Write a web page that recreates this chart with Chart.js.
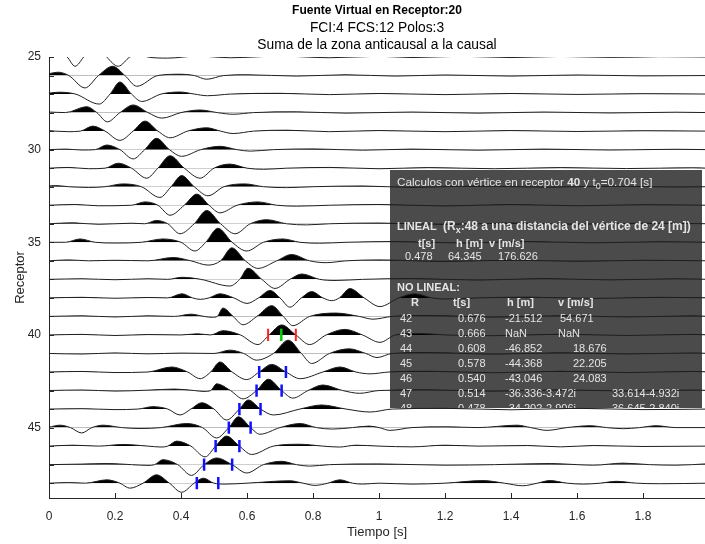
<!DOCTYPE html>
<html><head><meta charset="utf-8">
<script src="https://cdn.jsdelivr.net/npm/chart.js@4.4.1/dist/chart.umd.min.js"></script>
<style>html,body{margin:0;padding:0;background:#fff}#wrap{width:705px;height:544px;position:relative}</style>
</head><body><div id="wrap"><canvas id="c" width="705" height="544"></canvas></div>
<script>
// ---------- DATA ----------
const titleLines = ['Fuente Virtual en Receptor:20', 'FCI:4 FCS:12 Polos:3', 'Suma de la zona anticausal a la causal'];
const xTitle = 'Tiempo [s]';
const yTitle = 'Receptor';
const receptors = [25,26,27,28,29,30,31,32,33,34,35,36,37,38,39,40,41,42,43,44,45,46,47,48];
const yLabelEvery = 5;

// each trace: [time (s), amplitude (receptor units, positive = up / filled)]
const tr25 = [[0,0.3],[0.03,0.25],[0.055,0],[0.079,-0.5],[0.105,0],[0.14,0.8],[0.175,0],[0.21,-0.5],[0.245,0],[0.27,0.15],[0.3,0],[0.36,-0.06],[0.45,0.05],[0.55,-0.04],[0.7,0.05],[0.85,-0.04],[1.0,0.04],[1.1,-0.03],[1.25,0.04],[1.4,-0.03],[1.55,0.03],[1.7,-0.02],[1.85,0.02],[2.0,0]];
const tr26 = [[0,0.1],[0.027,0.18],[0.06,0],[0.109,-0.67],[0.15,0],[0.193,0.5],[0.23,0],[0.266,-0.58],[0.33,0],[0.4,0.07],[0.44,0],[0.478,-0.2],[0.53,0],[0.6,0.04],[0.75,-0.03],[0.9,0.04],[1.05,-0.03],[1.2,0.03],[1.4,-0.03],[1.6,0.03],[1.8,-0.02],[2.0,0]];
const tr27 = [[0,0.05],[0.03,0.1],[0.08,0],[0.152,-0.54],[0.185,0],[0.215,0.65],[0.25,0],[0.281,-0.4],[0.34,0],[0.397,0.11],[0.44,0],[0.48,-0.09],[0.55,0],[0.7,0.04],[0.85,-0.03],[1.0,0.03],[1.2,-0.03],[1.4,0.03],[1.6,-0.02],[1.8,0.02],[2.0,0]];
const tr28 = [[0,0.03],[0.05,0],[0.114,0.32],[0.145,0],[0.177,-0.5],[0.215,0],[0.255,0.41],[0.3,0],[0.342,-0.3],[0.4,0],[0.458,0.14],[0.51,0],[0.558,-0.09],[0.62,0],[0.75,0.04],[0.9,-0.03],[1.1,0.03],[1.3,-0.03],[1.5,0.03],[1.7,-0.02],[1.9,0.02],[2.0,0]];
const tr29 = [[0,0.02],[0.06,-0.03],[0.095,0],[0.133,0.27],[0.17,0],[0.215,-0.5],[0.255,0],[0.291,0.54],[0.33,0],[0.367,-0.36],[0.42,0],[0.478,0.18],[0.52,0],[0.558,-0.13],[0.62,0],[0.72,0.05],[0.85,-0.03],[1.0,0.03],[1.2,-0.03],[1.4,0.03],[1.6,-0.02],[1.8,0.02],[2.0,0]];
const tr30 = [[0,0],[0.05,0.03],[0.1,-0.02],[0.14,0],[0.175,0.25],[0.215,0],[0.255,-0.5],[0.29,0],[0.326,0.61],[0.365,0],[0.402,-0.36],[0.46,0],[0.518,0.18],[0.57,0],[0.61,-0.08],[0.68,0],[0.8,0.04],[0.95,-0.03],[1.1,0.03],[1.3,-0.03],[1.5,0.03],[1.7,-0.02],[1.9,0.02],[2.0,0]];
const tr31 = [[0,0],[0.06,0.04],[0.12,-0.03],[0.17,0],[0.21,0.27],[0.25,0],[0.296,-0.54],[0.33,0],[0.367,0.67],[0.41,0],[0.458,-0.54],[0.5,0],[0.548,0.22],[0.6,0],[0.65,-0.06],[0.72,0],[0.85,0.04],[1.0,-0.03],[1.15,0.03],[1.35,-0.03],[1.55,0.03],[1.75,-0.02],[1.95,0.02],[2.0,0]];
const tr32 = [[0,0.04],[0.02,0.06],[0.06,0],[0.12,-0.04],[0.17,0],[0.224,0.15],[0.28,0],[0.336,-0.58],[0.37,0],[0.402,0.6],[0.44,0],[0.482,-0.49],[0.53,0],[0.594,0.15],[0.65,0],[0.72,-0.05],[0.8,0],[0.95,0.04],[1.1,-0.04],[1.3,0.04],[1.5,-0.03],[1.7,0.03],[1.9,-0.02],[2.0,0]];
const tr33 = [[0,0],[0.08,0.04],[0.15,-0.03],[0.25,0],[0.291,0.18],[0.33,0],[0.367,-0.54],[0.41,0],[0.448,0.6],[0.485,0],[0.518,-0.41],[0.57,0],[0.633,0.18],[0.69,0],[0.75,-0.05],[0.85,0],[1.0,0.04],[1.2,-0.04],[1.4,0.04],[1.6,-0.03],[1.8,0.03],[2.0,0]];
const tr34 = [[0,0],[0.07,0.05],[0.15,-0.03],[0.25,0.03],[0.29,0],[0.326,0.18],[0.36,0],[0.397,-0.54],[0.44,0],[0.478,0.72],[0.52,0],[0.564,-0.54],[0.61,0],[0.66,0.22],[0.72,0],[0.78,-0.06],[0.85,0],[1.0,0.04],[1.2,-0.04],[1.4,0.04],[1.6,-0.03],[1.8,0.03],[2.0,0]];
const tr35 = [[0,0],[0.05,0],[0.094,0.18],[0.14,0],[0.2,-0.04],[0.28,0],[0.345,0.18],[0.4,0],[0.442,-0.47],[0.475,0],[0.512,0.76],[0.555,0],[0.599,-0.47],[0.65,0],[0.709,0.18],[0.76,0],[0.82,-0.05],[0.9,0],[1.05,0.04],[1.25,-0.04],[1.45,0.04],[1.65,-0.03],[1.85,0.03],[2.0,0]];
const tr36 = [[0,0],[0.06,0.05],[0.12,0],[0.2,0.03],[0.3,0],[0.376,0.18],[0.43,0],[0.482,-0.23],[0.52,0],[0.554,0.7],[0.595,0],[0.633,-0.41],[0.69,0],[0.735,0.34],[0.79,0],[0.84,-0.1],[0.9,0],[1.0,0.05],[1.2,-0.04],[1.4,0.04],[1.6,-0.03],[1.8,0.03],[2.0,0]];
const tr37 = [[0,0],[0.1,0.03],[0.2,-0.02],[0.3,0.03],[0.36,0],[0.403,0.11],[0.46,0],[0.548,-0.36],[0.578,0],[0.603,0.6],[0.645,0],[0.685,-0.49],[0.73,0],[0.766,0.29],[0.82,0],[0.87,-0.06],[0.95,0],[1.1,0.04],[1.3,-0.04],[1.5,0.04],[1.7,-0.03],[1.9,0.03],[2.0,0]];
const tr38 = [[0,0],[0.1,0.03],[0.2,-0.02],[0.3,0.02],[0.36,0],[0.403,0.22],[0.435,0],[0.458,-0.08],[0.485,0],[0.518,0.22],[0.56,0],[0.6,-0.3],[0.635,0],[0.67,0.4],[0.7,0],[0.73,-0.5],[0.765,0],[0.796,0.34],[0.83,0],[0.857,-0.15],[0.88,0],[0.912,0.5],[0.955,0],[1.003,-0.47],[1.06,0],[1.109,0.22],[1.16,0],[1.2,-0.06],[1.3,0],[1.45,0.04],[1.65,-0.03],[1.85,0.03],[2.0,0]];
const tr39 = [[0,0],[0.1,0.03],[0.2,-0.03],[0.3,0.03],[0.38,0],[0.43,0.12],[0.47,0],[0.495,-0.05],[0.51,0],[0.527,0.45],[0.558,0],[0.588,-0.45],[0.63,0],[0.675,0.58],[0.71,0],[0.739,-0.5],[0.79,0],[0.87,0.18],[0.94,0],[0.982,-0.15],[1.04,0],[1.15,0.05],[1.35,-0.04],[1.55,0.04],[1.75,-0.03],[1.95,0.03],[2.0,0]];
const tr40 = [[0,0],[0.1,0.03],[0.2,-0.03],[0.3,0.02],[0.4,0],[0.45,0.06],[0.49,0],[0.527,0.23],[0.58,0],[0.633,-0.52],[0.667,0],[0.705,0.54],[0.748,0],[0.79,-0.52],[0.84,0],[0.897,0.3],[0.95,0],[1.003,-0.4],[1.05,0],[1.12,0.08],[1.2,0],[1.35,-0.04],[1.55,0.04],[1.75,-0.03],[1.95,0.03],[2.0,0]];
const tr41 = [[0,0],[0.1,-0.03],[0.2,0.03],[0.3,-0.02],[0.4,0.02],[0.5,0],[0.548,0.18],[0.59,0],[0.629,-0.36],[0.68,0],[0.725,0.72],[0.765,0],[0.796,-0.54],[0.85,0],[0.91,0.25],[0.96,0],[0.994,-0.22],[1.04,0],[1.15,0.05],[1.35,-0.04],[1.55,0.04],[1.75,-0.03],[1.95,0.03],[2.0,0]];
const tr42 = [[0,0],[0.1,0.03],[0.2,-0.03],[0.3,0],[0.372,0.27],[0.42,0],[0.458,-0.36],[0.49,0],[0.518,0.54],[0.555,0],[0.599,-0.41],[0.637,0],[0.675,0.41],[0.718,0],[0.761,-0.36],[0.83,0],[0.882,0.27],[0.93,0],[0.973,-0.1],[1.03,0],[1.15,0.04],[1.35,-0.04],[1.55,0.04],[1.75,-0.03],[1.95,0.03],[2.0,0]];
const tr43 = [[0,0],[0.1,0.03],[0.2,-0.03],[0.3,0.02],[0.38,0.08],[0.44,0],[0.47,-0.05],[0.49,0],[0.508,0.36],[0.55,0],[0.588,-0.45],[0.629,0],[0.665,0.61],[0.705,0],[0.739,-0.41],[0.785,0],[0.83,0.3],[0.89,0],[0.942,-0.15],[1.0,0],[1.15,0.04],[1.35,-0.04],[1.55,0.04],[1.75,-0.03],[1.95,0.03],[2.0,0]];
const tr44 = [[0,0],[0.1,0.02],[0.2,-0.03],[0.27,0],[0.315,0.13],[0.36,0],[0.397,-0.32],[0.43,0],[0.463,0.34],[0.5,0],[0.538,-0.59],[0.577,0],[0.604,0.49],[0.641,0],[0.68,-0.32],[0.76,0],[0.826,0.22],[0.9,0],[0.973,-0.16],[1.04,0],[1.2,0.04],[1.4,-0.04],[1.6,0.04],[1.8,-0.03],[2.0,0]];
const tr45 = [[0,0.02],[0.033,0.13],[0.065,0],[0.099,-0.29],[0.13,0],[0.164,0.13],[0.22,0],[0.276,-0.05],[0.34,0],[0.417,0.22],[0.465,0],[0.508,-0.56],[0.545,0],[0.574,0.58],[0.611,0],[0.639,-0.36],[0.7,0],[0.761,0.22],[0.81,0],[0.86,-0.08],[0.92,0],[0.97,0.08],[1.0,0],[1.033,-0.15],[1.1,0],[1.2,0.04],[1.3,0],[1.418,0.13],[1.46,0],[1.509,-0.15],[1.57,0],[1.64,0.1],[1.69,0],[1.74,-0.06],[1.79,0],[1.84,0.1],[1.9,0],[2.0,0]];
const tr46 = [[0,0],[0.073,0.05],[0.15,0],[0.224,0.09],[0.3,0],[0.34,-0.05],[0.36,0],[0.387,0.27],[0.43,0],[0.473,-0.58],[0.505,0],[0.538,0.54],[0.577,0],[0.614,-0.45],[0.68,0],[0.761,0.1],[0.83,0],[0.88,-0.05],[0.93,0.05],[1.0,0],[1.1,-0.04],[1.2,0.05],[1.3,0],[1.45,0.03],[1.55,-0.04],[1.65,0.03],[1.8,-0.02],[2.0,0]];
const tr47 = [[0,0],[0.1,0.03],[0.175,0.06],[0.25,0],[0.3,-0.04],[0.32,0],[0.345,0.27],[0.39,0],[0.432,-0.58],[0.47,0],[0.508,0.36],[0.555,0],[0.599,-0.45],[0.65,0],[0.705,0.18],[0.75,0],[0.79,-0.08],[0.85,0],[1.0,0.04],[1.2,-0.03],[1.35,0],[1.52,0.06],[1.6,0],[1.65,-0.03],[1.74,0.08],[1.82,0],[1.9,-0.03],[2.0,0.05]];
const tr48 = [[0,0],[0.06,0.03],[0.11,0],[0.175,0.18],[0.215,0],[0.245,-0.27],[0.285,0],[0.326,0.45],[0.365,0],[0.402,-0.49],[0.44,0],[0.468,0.27],[0.5,0],[0.533,-0.05],[0.6,0],[0.73,0.13],[0.77,0],[0.806,-0.12],[0.845,0],[0.882,0.18],[0.92,0],[0.95,-0.05],[1.0,0],[1.1,-0.05],[1.2,0],[1.315,0.14],[1.38,0],[1.436,-0.14],[1.48,0],[1.518,0.14],[1.57,0],[1.62,-0.05],[1.67,0],[1.72,0.1],[1.78,0],[1.85,-0.03],[2.0,0]];
const traces = [tr25,tr26,tr27,tr28,tr29,tr30,tr31,tr32,tr33,tr34,tr35,tr36,tr37,tr38,tr39,tr40,tr41,tr42,tr43,tr44,tr45,tr46,tr47,tr48];

// picks
const redReceptor = 40;
const redTimes = [0.664, 0.748];
const greenTimes = [0.704];
const blueReceptors = [42, 43, 44, 45, 46, 47, 48];
const blueStart = [0.637, 0.629, 0.577, 0.545, 0.505, 0.470, 0.448];
const blueEnd   = [0.718, 0.705, 0.641, 0.611, 0.577, 0.555, 0.513];

// info box text
const infoVertex = '40';
const infoT0 = '0.704';
const linRx = '48';
const linDist = '24';
const linT = '0.478', linH = '64.345', linV = '176.626';
const nlR = ['42','43','44','45','46','47','48'];
const nlT = ['0.676','0.666','0.608','0.578','0.540','0.514','0.478'];
const nlH = ['-21.512','NaN','-46.852','-44.368','-43.046','-36.336-3.472i','-34.202-2.906i'];
const nlV = ['54.671','NaN','18.676','22.205','24.083','33.614-4.932i','36.645-2.840i'];

// ---------- LAYOUT / STYLE ----------
const FONT = '"Liberation Sans", Arial, Helvetica, sans-serif';
const AX = '#262626';
const nlVX = [560, 558, 573, 573, 573, 612, 612];
const box = {x: 390, y: 170, w: 312, h: 238};

const datasets = [];
traces.forEach((tr, i) => {
  const r = receptors[i];
  datasets.push({
    data: tr.map(([t, a]) => ({x: t, y: r - a})),
    borderColor: '#1e1e1e', borderWidth: 1, pointRadius: 0,
    cubicInterpolationMode: 'monotone',
    fill: {target: {value: r}, above: '#000000', below: 'rgba(0,0,0,0)'},
    order: 2
  });
});
const HALF = 0.33;
function marks(rs, ts) {
  const d = [];
  ts.forEach((t, i) => { const r = rs[i]; d.push({x: t, y: r - HALF}, {x: t, y: r + HALF}, {x: t, y: null}); });
  return d;
}
datasets.push({data: marks(redTimes.map(() => redReceptor), redTimes), borderColor: '#ff2020', borderWidth: 2, pointRadius: 0, spanGaps: false, fill: false, order: 0});
datasets.push({data: marks(greenTimes.map(() => redReceptor), greenTimes), borderColor: '#00d000', borderWidth: 2.5, pointRadius: 0, spanGaps: false, fill: false, order: 0});
datasets.push({data: marks(blueReceptors.concat(blueReceptors), blueStart.concat(blueEnd)), borderColor: '#1010ff', borderWidth: 2.5, pointRadius: 0, spanGaps: false, fill: false, order: 0});

function runs(ctx, x, y, list, size, color) {
  let cx = x;
  for (const r of list) {
    const fs = r.sub ? Math.round(size * 0.75) : size;
    ctx.font = (r.b ? 'bold ' : '') + fs + 'px ' + FONT;
    ctx.fillStyle = color;
    ctx.fillText(r.t, cx, r.sub ? y + 4 : y);
    cx += ctx.measureText(r.t).width;
  }
}

const deco = {
  id: 'deco',
  beforeDatasetsDraw(chart) {
    const ctx = chart.ctx;
    ctx.save();
    ctx.fillStyle = '#4b4b4b';
    ctx.fillRect(box.x, box.y, box.w, box.h);
    ctx.restore();
  },
  afterDatasetsDraw(chart) {
    const ctx = chart.ctx;
    ctx.save();
    ctx.beginPath(); ctx.rect(box.x, box.y, box.w, box.h); ctx.clip();
    ctx.textBaseline = 'middle'; ctx.textAlign = 'left';
    const C = '#e4e4e4', S = 11;
    runs(ctx, 397, 183, [{t: 'Calculos con vértice en receptor '}, {t: infoVertex, b: 1}, {t: ' y t'}, {t: '0', sub: 1}, {t: '=' + infoT0 + ' [s]'}], 11.7, C);
    runs(ctx, 397, 227, [{t: 'LINEAL', b: 1}], S, C);
    runs(ctx, 443, 227, [{t: '(R', b: 1}, {t: 'x', b: 1, sub: 1}, {t: ':' + linRx + ' a una distancia del vértice de ' + linDist + ' [m])', b: 1}], 12, C);
    runs(ctx, 418, 244, [{t: 't[s]', b: 1}], S, C);
    runs(ctx, 456, 244, [{t: 'h [m]', b: 1}], S, C);
    runs(ctx, 489, 244, [{t: 'v [m/s]', b: 1}], S, C);
    runs(ctx, 405, 257, [{t: linT}], S, C);
    runs(ctx, 448, 257, [{t: linH}], S, C);
    runs(ctx, 498, 257, [{t: linV}], S, C);
    runs(ctx, 397, 288, [{t: 'NO LINEAL:', b: 1}], S, C);
    runs(ctx, 411, 303, [{t: 'R', b: 1}], S, C);
    runs(ctx, 453, 303, [{t: 't[s]', b: 1}], S, C);
    runs(ctx, 507, 303, [{t: 'h [m]', b: 1}], S, C);
    runs(ctx, 558, 303, [{t: 'v [m/s]', b: 1}], S, C);
    nlR.forEach((r, i) => {
      const y = 319 + i * 15;
      runs(ctx, 400, y, [{t: r}], S, C);
      runs(ctx, 458, y, [{t: nlT[i]}], S, C);
      runs(ctx, 505, y, [{t: nlH[i]}], S, C);
      runs(ctx, nlVX[i], y, [{t: nlV[i]}], S, C);
    });
    ctx.restore();
  },
  afterDraw(chart) {
    const ctx = chart.ctx, a = chart.chartArea, xs = chart.scales.x, ys = chart.scales.y;
    ctx.save();
    ctx.strokeStyle = AX; ctx.lineWidth = 1;
    xs.ticks.forEach(t => { const p = Math.round(xs.getPixelForValue(t.value)) + 0.5; ctx.beginPath(); ctx.moveTo(p, a.bottom); ctx.lineTo(p, a.bottom - 5); ctx.stroke(); });
    ys.ticks.forEach(t => { const p = Math.round(ys.getPixelForValue(t.value)) + 0.5; ctx.beginPath(); ctx.moveTo(a.left, p); ctx.lineTo(a.left + 5, p); ctx.stroke(); });
    // titles
    const cx = (a.left + a.right) / 2;
    ctx.textAlign = 'center'; ctx.textBaseline = 'middle'; ctx.fillStyle = '#000';
    ctx.font = 'bold 12px ' + FONT; ctx.fillText(titleLines[0], cx, 11);
    ctx.font = '13.8px ' + FONT; ctx.fillText(titleLines[1], cx, 28); ctx.fillText(titleLines[2], cx, 45);
    ctx.fillStyle = AX; ctx.font = '13px ' + FONT;
    ctx.fillText(xTitle, cx, 532);
    ctx.translate(20, (a.top + a.bottom) / 2); ctx.rotate(-Math.PI / 2);
    ctx.fillText(yTitle, 0, 0);
    ctx.restore();
  }
};

new Chart(document.getElementById('c'), {
  type: 'line',
  data: {datasets},
  options: {
    responsive: false, animation: false, events: [],
    layout: {padding: {top: 57, right: 0, left: 0, bottom: 0}},
    plugins: {legend: {display: false}, tooltip: {enabled: false}, title: {display: false}},
    scales: {
      x: {type: 'linear', min: 0, max: 1.988,
        grid: {display: false}, border: {display: true, color: AX, width: 1},
        ticks: {stepSize: 0.2, includeBounds: false, padding: 3, color: AX, font: {family: FONT, size: 12}, maxRotation: 0,
          callback: v => String(Math.round(v * 10) / 10)},
        afterFit(s) { s.height = 46; }
      },
      y: {type: 'linear', reverse: true, min: 25, max: 48.8,
        grid: {display: false}, border: {display: true, color: AX, width: 1},
        ticks: {stepSize: 1, includeBounds: false, padding: 0, color: AX, font: {family: FONT, size: 12}, autoSkip: false,
          callback: v => (Math.round(v) % yLabelEvery === 0 ? String(Math.round(v)) : '')},
        afterFit(s) { s.width = 49; }
      }
    }
  },
  plugins: [deco]
});
</script></body></html>
